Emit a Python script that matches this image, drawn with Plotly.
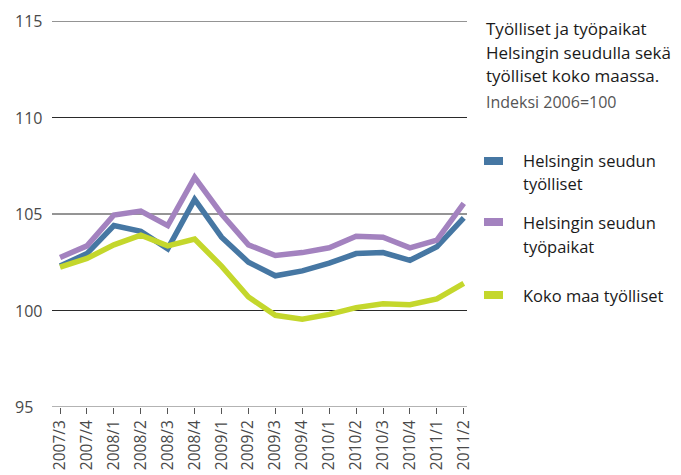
import plotly.graph_objects as go

categories = ["2007/3", "2007/4", "2008/1", "2008/2", "2008/3", "2008/4", "2009/1", "2009/2",
              "2009/3", "2009/4", "2010/1", "2010/2", "2010/3", "2010/4", "2011/1", "2011/2"]

helsinki_tyolliset = [102.3, 102.95, 104.4, 104.1, 103.2, 105.75, 103.8, 102.5,
                      101.8, 102.05, 102.45, 102.95, 103.0, 102.6, 103.3, 104.8]
helsinki_tyopaikat = [102.75, 103.35, 104.95, 105.15, 104.4, 106.9, 105.0, 103.4,
                      102.85, 103.0, 103.25, 103.85, 103.8, 103.25, 103.65, 105.55]
koko_maa_tyolliset = [102.25, 102.7, 103.4, 103.9, 103.35, 103.7, 102.3, 100.7,
                      99.75, 99.55, 99.8, 100.15, 100.35, 100.3, 100.6, 101.4]

series_names = ["Helsingin seudun<br>työlliset", "Helsingin seudun<br>työpaikat", "Koko maa työlliset"]
series_values = [helsinki_tyolliset, helsinki_tyopaikat, koko_maa_tyolliset]
series_colors = ["#4677a3", "#a382bf", "#c4d72c"]

y_ticks = [95, 100, 105, 110, 115]
title_lines = ["Työlliset ja työpaikat", "Helsingin seudulla sekä", "työlliset koko maassa."]
subtitle = "Indeksi 2006=100"

W, H = 681, 475
L, R, T, B = 52, 214, 21, 68
PW, PH = W - L - R, H - T - B

def px(x):
    return (x - L) / PW

def py(y):
    return (H - B - y) / PH

FONT = "Open Sans"

fig = go.Figure()
x_idx = list(range(len(categories)))

annotations = []
shapes = []

# horizontal grid lines at each y tick
for v in y_ticks:
    shapes.append(dict(
        type="line", xref="paper", yref="y", x0=0, x1=1, y0=v, y1=v,
        line=dict(color="#666666" if v == y_ticks[0] else "#2a2a2a", width=1),
        layer="below",
    ))
    annotations.append(dict(
        x=px(13), xref="paper", y=v, yref="y", text=str(v), showarrow=False,
        xanchor="left", yanchor="middle",
        font=dict(family=FONT, size=16, color="#4a4a4a"),
    ))

for name, vals, col in zip(series_names, series_values, series_colors):
    fig.add_trace(go.Scatter(
        x=x_idx, y=vals, mode="lines", name=name,
        line=dict(color=col, width=5.5),
        showlegend=False, hoverinfo="skip",
    ))

# title
for i, line in enumerate(title_lines):
    annotations.append(dict(
        x=px(484), xref="paper", y=py(29 + i * 23.5), yref="paper", text=line,
        showarrow=False, xanchor="left", yanchor="middle",
        font=dict(family=FONT, size=17, color="#1a1a1a"),
    ))
annotations.append(dict(
    x=px(484), xref="paper", y=py(102), yref="paper", text=subtitle,
    showarrow=False, xanchor="left", yanchor="middle",
    font=dict(family=FONT, size=16, color="#555555"),
))

# legend
legend_y = [[161, 184], [222, 246], [295]]
for name, col, ys in zip(series_names, series_colors, legend_y):
    sy = ys[0]
    shapes.append(dict(
        type="rect", xref="paper", yref="paper",
        x0=px(484), x1=px(503), y0=py(sy - 4), y1=py(sy + 4),
        fillcolor=col, line=dict(width=0),
    ))
    for part, yy in zip(name.split("<br>"), ys):
        annotations.append(dict(
            x=px(521), xref="paper", y=py(yy), yref="paper", text=part,
            showarrow=False, xanchor="left", yanchor="middle",
            font=dict(family=FONT, size=16.5, color="#1a1a1a"),
        ))

fig.update_layout(
    width=W, height=H,
    margin=dict(l=L, r=R, t=T, b=B),
    paper_bgcolor="white", plot_bgcolor="white",
    annotations=annotations, shapes=shapes,
    xaxis=dict(
        range=[-0.3, 15.12], tickmode="array", tickvals=x_idx, ticktext=categories,
        tickangle=-90, ticks="outside", ticklen=6, tickcolor="#555555", tickwidth=1,
        showgrid=False, showline=False, zeroline=False, automargin=False,
        tickfont=dict(family=FONT, size=15.5, color="#4a4a4a"),
    ),
    yaxis=dict(
        range=[95, 115], showticklabels=False, ticks="",
        showgrid=False, zeroline=False, showline=False, automargin=False,
    ),
)

fig.write_html("out.html", config={"displayModeBar": False},
               post_script="document.body.style.margin='0';")
